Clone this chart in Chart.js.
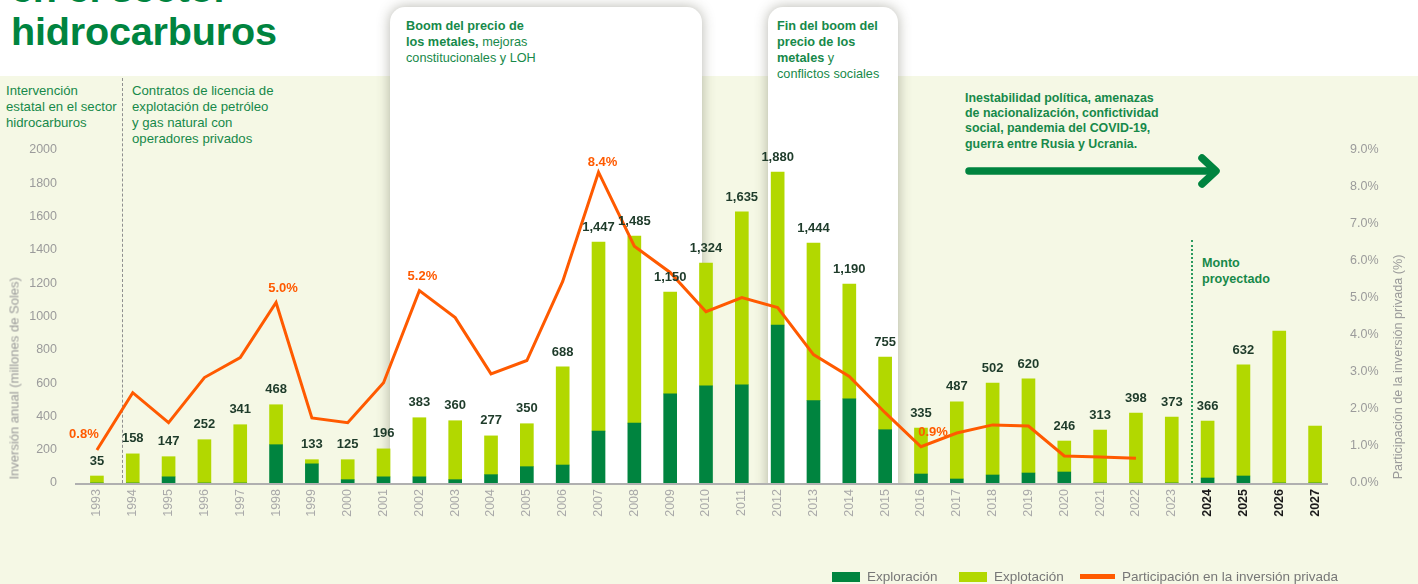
<!DOCTYPE html>
<html>
<head>
<meta charset="utf-8">
<script src="https://cdn.jsdelivr.net/npm/chart.js@4/dist/chart.umd.min.js"></script>
<style>
  html, body { margin:0; padding:0; background:#fff; }
  body { font-family: "Liberation Sans", Arial, Helvetica, sans-serif; }
  #wrap { position:relative; width:1418px; height:584px; overflow:hidden; background:#fff; }
  .abs { position:absolute; }
  .cream { left:0; top:76px; width:1418px; height:508px; background:#f5f8e5; }
  .clip { left:0; top:0; width:1418px; height:484px; overflow:hidden; }
  .box { position:absolute; background:#fff; border-radius:15px 15px 0 0; box-shadow:0 0 13px rgba(60,60,40,0.38); }
  .title { left:11px; top:-33px; font-size:39.6px; line-height:43px; font-weight:bold; color:#00843f; white-space:nowrap; letter-spacing:-0.2px; }
  .ann { color:#17894a; white-space:nowrap; }
  .ann b { font-weight:bold; }
  canvas { position:absolute; left:0; top:0; }
  .ytitle { color:#9a9a9a; font-size:13px; white-space:nowrap; transform-origin:center center; }
  .leg { top:569px; height:16px; font-size:13.5px; color:#777; white-space:nowrap; line-height:16px; }
  .sw { position:absolute; }
</style>
</head>
<body>
<div id="wrap">
  <div class="abs cream"></div>
  <div class="abs clip">
    <div class="box" style="left:390px;top:7px;width:312px;height:520px;"></div>
    <div class="box" style="left:768px;top:7px;width:130px;height:520px;"></div>
  </div>
  <div class="abs title">en el sector<br>hidrocarburos</div>

  <!-- dashed separator -->
  <div class="abs" style="left:122px;top:78px;width:0;height:405px;border-left:1px dashed #8f8f8f;"></div>
  <!-- dotted projection separator -->
  <div class="abs" style="left:1191px;top:240px;width:0;height:243px;border-left:2px dotted #2a9a5e;"></div>

  <div class="abs ann" style="left:6px;top:83px;font-size:13.2px;line-height:16px;">Intervención<br>estatal en el sector<br>hidrocarburos</div>
  <div class="abs ann" style="left:132px;top:83px;font-size:13.2px;line-height:16px;">Contratos de licencia de<br>explotación de petróleo<br>y gas natural con<br>operadores privados</div>
  <div class="abs ann" style="left:406px;top:18px;font-size:12.7px;line-height:16px;"><b>Boom del precio de<br>los metales,</b> mejoras<br>constitucionales y LOH</div>
  <div class="abs ann" style="left:777px;top:18px;font-size:12.7px;line-height:16px;"><b>Fin del boom del<br>precio de los<br>metales</b> y<br>conflictos sociales</div>
  <div class="abs ann" style="left:965px;top:91px;font-size:12.4px;line-height:15.2px;font-weight:bold;">Inestabilidad política, amenazas<br>de nacionalización, confictividad<br>social, pandemia del COVID-19,<br>guerra entre Rusia y Ucrania.</div>
  <svg class="abs" style="left:955px;top:150px;" width="280" height="45">
    <line x1="14" y1="21" x2="258" y2="21" stroke="#00843f" stroke-width="7.5" stroke-linecap="round"/>
    <polyline points="247,8 261,21 247,34" fill="none" stroke="#00843f" stroke-width="7.5" stroke-linecap="round" stroke-linejoin="round"/>
  </svg>
  <div class="abs ann" style="left:1202px;top:255px;font-size:12.6px;line-height:16px;font-weight:bold;">Monto<br>proyectado</div>

  <canvas id="c" width="1418" height="584"></canvas>

  <div class="abs ytitle" style="left:-86px;top:372px;width:200px;text-align:center;transform:rotate(-90deg);">Inversión anual (millones de Soles)</div>
  <div class="abs ytitle" style="left:1273px;top:360px;width:250px;text-align:center;font-size:12.6px;transform:rotate(-90deg);">Participación de la inversión privada (%)</div>

  <div class="abs leg" style="left:832px;">
    <span class="sw" style="left:0;top:3px;width:28px;height:10px;background:#00843f;"></span>
    <span style="position:absolute;left:35px;top:0;">Exploración</span>
  </div>
  <div class="abs leg" style="left:959px;">
    <span class="sw" style="left:0;top:3px;width:28px;height:10px;background:#b2d800;"></span>
    <span style="position:absolute;left:35px;top:0;">Explotación</span>
  </div>
  <div class="abs leg" style="left:1080px;">
    <span class="sw" style="left:0;top:5px;width:35px;height:5px;background:#ff5a00;"></span>
    <span style="position:absolute;left:42px;top:0;">Participación en la inversión privada</span>
  </div>
</div>

<script>
// ---- DATA ----
const years = ['1993','1994','1995','1996','1997','1998','1999','2000','2001','2002','2003','2004','2005','2006','2007','2008','2009','2010','2011','2012','2013','2014','2015','2016','2017','2018','2019','2020','2021','2022','2023','2024','2025','2026','2027'];
const exploracion = [0,0,37,0,0,230,115,20,37,37,20,50,98,108,312,360,535,583,590,949,495,505,320,54,24,48,60,66,0,0,0,30,42,0,0];
const explotacion = [42,175,121,260,350,240,25,120,168,355,354,233,258,589,1135,1123,612,738,1038,919,946,690,437,276,463,552,565,186,318,420,396,342,667,913,342];
const participacion = [0.89,2.44,1.63,2.85,3.39,4.88,1.76,1.63,2.71,5.2,4.47,2.95,3.31,5.45,8.4,6.4,5.69,4.63,5.01,4.74,3.47,2.88,1.9,0.98,1.35,1.57,1.54,0.73,0.70,0.67,null,null,null,null,null];
const barLabels = ['35','158','147','252','341','468','133','125','196','383','360','277','350','688','1,447','1,485','1,150','1,324','1,635','1,880','1,444','1,190','755','335','487','502','620','246','313','398','373','366','632',null,null];
const pctLabels = {0:'0.8%', 5:'5.0%', 9:'5.2%', 14:'8.4%', 23:'0.9%'};
const leftTicksMax = 2000, leftStep = 200;
const rightTicksMax = 9, rightStep = 1;
const projectedFrom = 31;

// ---- STYLE ----
const FONT = '"Liberation Sans", Arial, Helvetica, sans-serif';
const pctOffsets = {0:[-13,-16], 5:[7,-14], 9:[3,-14], 14:[4,-10], 23:[12,-14]};

Chart.defaults.font.family = FONT;

const annotationsPlugin = {
  id: 'annots',
  beforeDatasetsDraw(chart) {
    const {ctx, chartArea} = chart;
    ctx.save();
    ctx.strokeStyle = '#b0b0b0';
    ctx.lineWidth = 2;
    ctx.beginPath();
    ctx.moveTo(chartArea.left - 4, chartArea.bottom + 1);
    ctx.lineTo(chartArea.right - 5, chartArea.bottom + 1);
    ctx.stroke();
    ctx.restore();
  },
  afterDatasetsDraw(chart) {
    const {ctx} = chart;
    ctx.save();
    const topMeta = chart.getDatasetMeta(1);
    ctx.font = 'bold 13px ' + FONT;
    ctx.fillStyle = '#1e3b2a';
    ctx.textAlign = 'center';
    ctx.textBaseline = 'middle';
    topMeta.data.forEach((el, i) => {
      if (barLabels[i] == null) return;
      ctx.fillText(barLabels[i], el.x, el.y - 15);
    });
    const lineMeta = chart.getDatasetMeta(2);
    ctx.font = 'bold 13px ' + FONT;
    ctx.fillStyle = '#ff5a00';
    Object.keys(pctLabels).forEach(k => {
      const el = lineMeta.data[k];
      const off = pctOffsets[k] || [0,-14];
      ctx.fillText(pctLabels[k], el.x + off[0], el.y + off[1]);
    });
    ctx.restore();
  }
};

new Chart(document.getElementById('c'), {
  type: 'bar',
  data: {
    labels: years,
    datasets: [
      { label: 'Exploración', data: exploracion, backgroundColor: '#00843f', yAxisID: 'y', stack: 's', order: 1, barThickness: 13 },
      { label: 'Explotación', data: explotacion, backgroundColor: '#b2d800', yAxisID: 'y', stack: 's', order: 1, barThickness: 13 },
      { type: 'line', label: 'Participación en la inversión privada', data: participacion, borderColor: '#ff5a00', backgroundColor: '#ff5a00', borderWidth: 3, pointRadius: 0, tension: 0, borderJoinStyle: 'miter', yAxisID: 'y1', order: 0, spanGaps: false }
    ]
  },
  options: {
    responsive: false,
    animation: false,
    devicePixelRatio: 1,
    layout: { padding: { top: 150, bottom: 41, left: 0, right: 0 } },
    plugins: { legend: { display: false }, tooltip: { enabled: false } },
    scales: {
      x: {
        stacked: true,
        grid: { display: false, drawTicks: false },
        border: { display: false },
        ticks: {
          autoSkip: false, minRotation: 90, maxRotation: 90, padding: 6,
          color: (c) => c.index >= projectedFrom ? '#1a1a1a' : '#a9a9a9',
          font: (c) => ({ size: 12.5, weight: c.index >= projectedFrom ? 'bold' : 'normal', family: FONT })
        },
        afterFit: (s) => { s.height = 60; }
      },
      y: {
        stacked: true, min: 0, max: leftTicksMax, position: 'left',
        grid: { display: false, drawTicks: false },
        border: { display: false },
        ticks: { stepSize: leftStep, padding: 22, color: '#9b9b9b', font: { size: 12.5 }, callback: (v) => String(v) },
        afterFit: (s) => { s.width = 79; }
      },
      y1: {
        min: 0, max: rightTicksMax, position: 'right',
        grid: { display: false, drawTicks: false, drawOnChartArea: false },
        border: { display: false },
        ticks: { stepSize: rightStep, padding: 17, color: '#9b9b9b', font: { size: 12.5 }, callback: (v) => v.toFixed(1) + '%' },
        afterFit: (s) => { s.width = 85; }
      }
    }
  },
  plugins: [annotationsPlugin]
});
</script>
</body>
</html>
